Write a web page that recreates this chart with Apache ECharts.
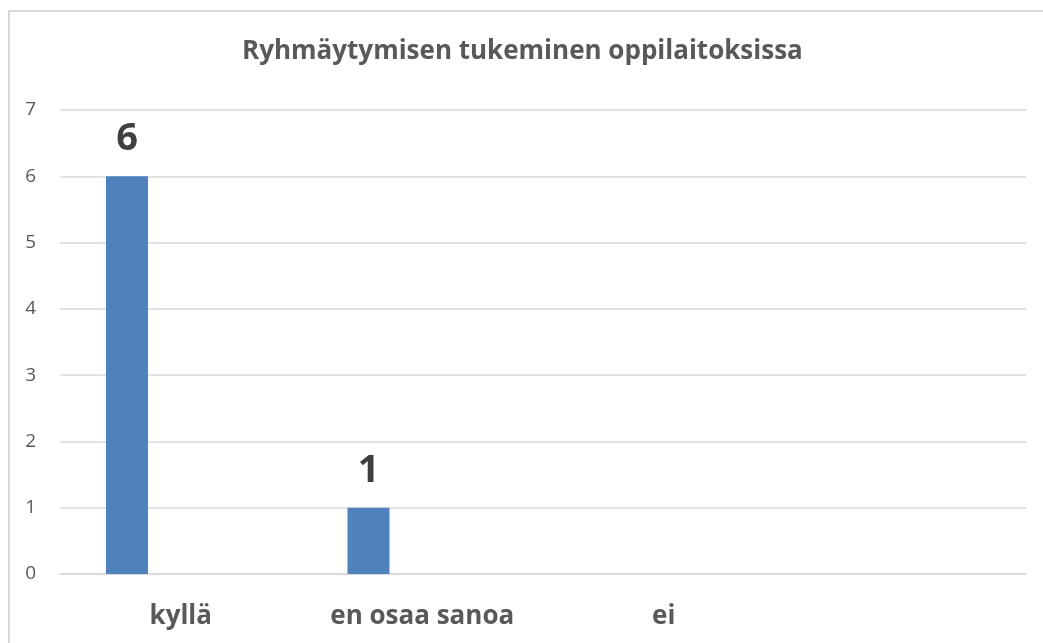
<!DOCTYPE html>
<html>
<head>
<meta charset="utf-8">
<script src="https://cdn.jsdelivr.net/npm/echarts@6/dist/echarts.min.js"></script>
<style>
html,body{margin:0;padding:0;background:#fff;}
#c{width:1043px;height:643px;}
</style>
</head>
<body>
<div id="c"></div>
<script>
const titleText = 'Ryhmäytymisen tukeminen oppilaitoksissa';
const categories = ['kyllä', 'en osaa sanoa', 'ei', ''];
const values = [6, 1, null, null];
const emptySeries = [null, null, null, null];
const yTicks = { min: 0, max: 7, interval: 1 };

const chart = echarts.init(document.getElementById('c'), null, { renderer: 'canvas' });
chart.setOption({
  backgroundColor: '#ffffff',
  animation: false,
  graphic: [{
    type: 'polyline',
    shape: { points: [[9, 643], [9, 11], [1043, 11]] },
    style: { stroke: '#d9d9d9', lineWidth: 2, fill: null },
    silent: true
  }],
  title: {
    text: titleText,
    left: 237,
    top: 34,
    textStyle: { fontFamily: 'Open Sans', fontWeight: 'bold', fontSize: 26, color: '#595959' }
  },
  grid: { left: 60, right: 17, top: 110, bottom: 69, containLabel: false },
  xAxis: {
    type: 'category',
    data: categories,
    axisLine: { show: true, lineStyle: { color: '#d9d9d9', width: 1.5 } },
    axisTick: { show: false },
    axisLabel: {
      fontFamily: 'Open Sans', fontWeight: 'bold', fontSize: 26, color: '#595959', margin: 30
    },
    splitLine: { show: false }
  },
  yAxis: {
    type: 'value',
    min: yTicks.min, max: yTicks.max, interval: yTicks.interval,
    axisLine: { show: false },
    axisTick: { show: false },
    axisLabel: { fontFamily: 'Open Sans', fontSize: 19, color: '#595959', margin: 24 },
    splitLine: { lineStyle: { color: '#d9d9d9', width: 1.5 } }
  },
  series: [{
    type: 'bar',
    data: values,
    barWidth: 42,
    barGap: '156%',
    itemStyle: { color: '#4f81bd' },
    label: {
      show: true, position: 'top', distance: 18,
      fontFamily: 'Open Sans', fontWeight: 'bold', fontSize: 38, color: '#404040'
    }
  }, {
    type: 'bar',
    data: emptySeries,
    barWidth: 42,
    itemStyle: { color: '#c0504d' }
  }]
});
</script>
</body>
</html>
